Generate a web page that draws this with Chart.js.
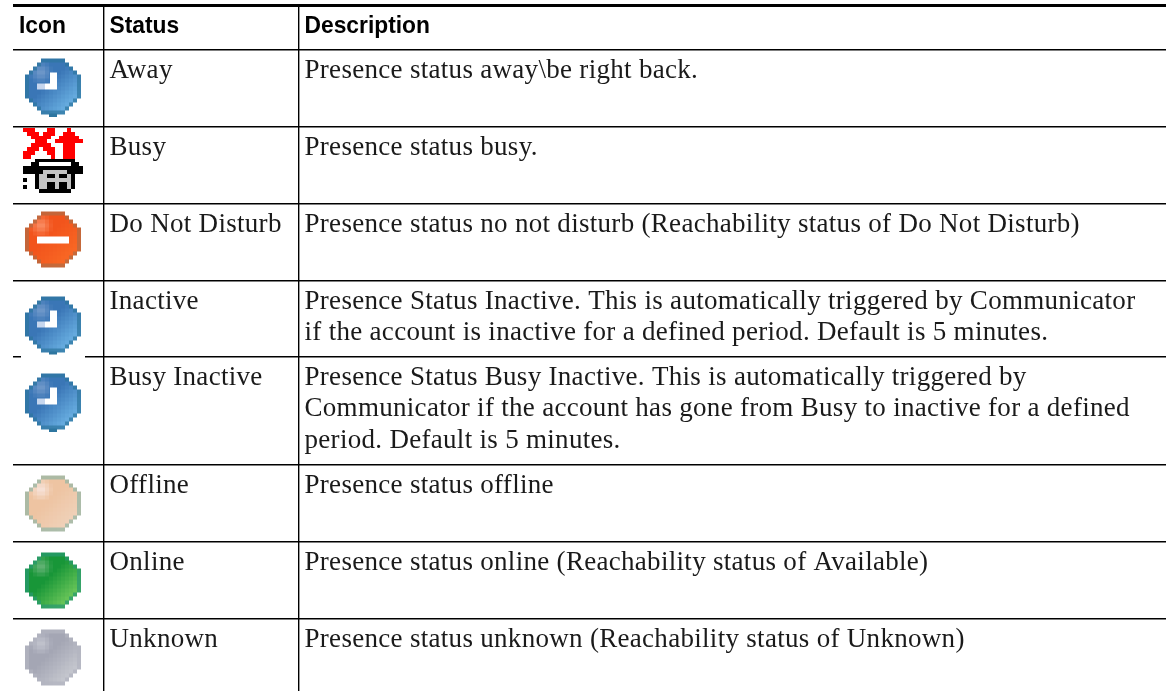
<!DOCTYPE html>
<html>
<head>
<meta charset="utf-8">
<script src="https://cdn.jsdelivr.net/npm/chart.js@4"></script>
<style>
  html, body { margin: 0; padding: 0; background: #fff; }
  canvas { display: block; }
</style>
</head>
<body>
<canvas id="statusTable" width="1166" height="691"></canvas>
<script>
// table content
const headers = ['Icon', 'Status', 'Description'];
const statuses = ['Away', 'Busy', 'Do Not Disturb', 'Inactive', 'Busy Inactive', 'Offline', 'Online', 'Unknown'];
const descriptions = [
  ['Presence status away\\be right back.'],
  ['Presence status busy.'],
  ['Presence status no not disturb (Reachability status of Do Not Disturb)'],
  ['Presence Status Inactive. This is automatically triggered by Communicator', 'if the account is inactive for a defined period. Default is 5 minutes.'],
  ['Presence Status Busy Inactive. This is automatically triggered by', 'Communicator if the account has gone from Busy to inactive for a defined', 'period. Default is 5 minutes.'],
  ['Presence status offline'],
  ['Presence status online (Reachability status of Available)'],
  ['Presence status unknown (Reachability status of Unknown)']
];
const iconKinds = ['clock', 'busy', 'dnd', 'clockMasked', 'clock', 'offline', 'online', 'unknown'];

// axis ticks: the rules of the table
const columnTicks = [103.5, 298.5];
const rowTicks = [5.5, 49.5, 126.5, 203.5, 280.5, 356.5, 464.5, 541.5, 618.5];
const iconRowOffsets = [37, 34, 36, 44, 45, 39, 39, 39];

const ICON_X = 53;
const LINE_STEP = 31.7;
const textColor = '#1a1a1a';

const palettes = {
  clock: { edge: [46, 118, 160], dark: [58, 118, 182], light: [114, 186, 234], shine: [118, 156, 204] },
  dnd: { edge: [180, 106, 66], dark: [242, 84, 28], light: [250, 108, 38], shine: [250, 146, 106] },
  offline: { edge: [150, 182, 165], dark: [238, 196, 162], light: [240, 212, 190], shine: [248, 230, 222] },
  online: { edge: [40, 154, 110], dark: [24, 150, 56], light: [124, 208, 96], shine: [108, 182, 124] },
  unknown: { edge: [178, 180, 192], dark: [164, 166, 180], light: [204, 206, 212], shine: [196, 198, 208] }
};

const mix = (a, b, t) => a.map((v, i) => Math.round(v + (b[i] - v) * t));
const rgb = (c) => `rgb(${c[0]},${c[1]},${c[2]})`;

// low-res round icon, blown up the way the original bitmap was
const makeRoundIcon = (kind) => {
  const p = palettes[kind === 'clockMasked' ? 'clock' : kind];
  const n = 14, cell = 4;
  const inside = (x, y) => Math.hypot(x - 6.5, y - 6.5) <= 7.1;
  const small = document.createElement('canvas');
  small.width = small.height = n;
  const s = small.getContext('2d');
  for (let y = 0; y < n; y++) {
    for (let x = 0; x < n; x++) {
      if (!inside(x, y)) continue;
      const isEdge = !inside(x - 1, y) || !inside(x + 1, y) || !inside(x, y - 1) || !inside(x, y + 1);
      let c = mix(p.dark, p.light, Math.max(0, (x + y - 11) / 13));
      const glow = Math.max(0, 1 - Math.hypot(x - 3.5, y - 3) / 3);
      c = mix(c, p.shine, glow);
      if (isEdge) c = mix(c, p.edge, 0.75);
      s.fillStyle = rgb(c);
      s.fillRect(x, y, 1, 1);
    }
  }
  const masked = kind === 'clockMasked';
  const isClock = kind === 'clock' || masked;
  const big = document.createElement('canvas');
  big.width = masked ? 64 : 56;
  big.height = masked ? 70 : 60;
  const b = big.getContext('2d');
  if (masked) {
    b.fillStyle = '#fff';
    b.fillRect(0, 0, big.width, big.height);
  }
  const ox = (big.width - n * cell) / 2;
  const oy = (big.height - n * cell) / 2;
  b.imageSmoothingEnabled = false;
  b.filter = 'blur(0.7px)';
  b.drawImage(small, ox, oy, n * cell, n * cell);
  if (isClock) {
    b.fillStyle = rgb(p.edge);
    b.fillRect(ox + 24, oy + 55, 8, 3);
    b.fillStyle = '#c6d6ee';
    b.fillRect(ox + 12, oy + 25, 8, 6);
    b.fillStyle = '#fff';
    b.fillRect(ox + 20, oy + 25, 12, 6);
    b.fillRect(ox + 25, oy + 14, 7, 17);
  }
  if (kind === 'dnd') {
    b.fillStyle = '#fff';
    b.fillRect(ox + 12, oy + 25, 32, 7);
  }
  return big;
};

const busyArt = [
  'RRR...RR...R...',
  '.RRR.RRR..RRR..',
  '..RRRRR..RRRRR.',
  '...RRR..RRRRRRR',
  '..RRRRR...RRR..',
  '.RRR.RRR..RRR..',
  'RRR...RR..RRR..',
  'RR.....R..RRR..',
  '...KKKKKKKKKK..',
  '..KKWWWWWWWWKK.',
  'KKKKKKKKKKKKKKK',
  'KKKKKGGGGGGKKKK',
  '...KGGKKGKKGK..',
  'K..KGGGGGGGGK..',
  '...KGGKKGKKGK..',
  'K..KGGKKGKKGK..',
  '....KKKKKKKK...'
];

const makeBusyIcon = () => {
  const colors = { R: '#ff0000', K: '#000000', W: '#ffffff', G: '#c4c4c4' };
  const small = document.createElement('canvas');
  small.width = busyArt[0].length;
  small.height = busyArt.length;
  const s = small.getContext('2d');
  busyArt.forEach((row, y) => {
    [...row].forEach((ch, x) => {
      if (colors[ch]) {
        s.fillStyle = colors[ch];
        s.fillRect(x, y, 1, 1);
      }
    });
  });
  const big = document.createElement('canvas');
  big.width = 60;
  big.height = 65;
  const b = big.getContext('2d');
  b.imageSmoothingEnabled = false;
  b.filter = 'blur(0.5px)';
  b.drawImage(small, 0, 0, 60, 65);
  return big;
};

const iconImages = iconKinds.map((k) => (k === 'busy' ? makeBusyIcon() : makeRoundIcon(k)));
const iconPoints = iconKinds.map((k, i) => ({ x: ICON_X, y: rowTicks[i + 1] + iconRowOffsets[i] }));

// the cell text goes in after the datasets, placed through the scales
const cellTextPlugin = {
  id: 'cellText',
  afterDatasetsDraw(chart) {
    const { ctx, scales: { x, y } } = chart;
    const headX = [x.getPixelForValue(19), x.getPixelForValue(columnTicks[0] + 6), x.getPixelForValue(columnTicks[1] + 6)];
    const bodyX = [null, x.getPixelForValue(columnTicks[0] + 6), x.getPixelForValue(columnTicks[1] + 6)];
    ctx.save();
    ctx.textBaseline = 'alphabetic';
    ctx.textAlign = 'left';
    ctx.fillStyle = '#000';
    ctx.font = 'bold 24px "Liberation Sans", sans-serif';
    headers.forEach((h, i) => {
      // header face in the original is a narrow one
      ctx.save();
      ctx.translate(headX[i], y.getPixelForValue(rowTicks[0] + 27.5));
      ctx.scale(0.95, 1);
      ctx.fillText(h, 0, 0);
      ctx.restore();
    });
    ctx.fillStyle = textColor;
    ctx.font = '27px "Liberation Serif", serif';
    ctx.letterSpacing = '0.3px';
    statuses.forEach((s, i) => {
      const top = rowTicks[i + 1];
      ctx.fillText(s, bodyX[1], y.getPixelForValue(top + 28));
      descriptions[i].forEach((line, j) => {
        ctx.fillText(line, bodyX[2], y.getPixelForValue(top + 28 + j * LINE_STEP));
      });
    });
    ctx.restore();
  }
};

new Chart(document.getElementById('statusTable').getContext('2d'), {
  type: 'scatter',
  data: {
    datasets: [{
      data: iconPoints,
      pointStyle: iconImages,
      pointRadius: 20,
      showLine: false,
      clip: false
    }]
  },
  options: {
    responsive: false,
    animation: false,
    events: [],
    layout: { autoPadding: false, padding: { left: 13, top: 5.5, right: 0, bottom: 0 } },
    plugins: { legend: { display: false }, tooltip: { enabled: false } },
    scales: {
      x: {
        type: 'linear',
        min: 13,
        max: 1166,
        afterBuildTicks: (scale) => { scale.ticks = columnTicks.map((value) => ({ value })); },
        ticks: { display: false },
        border: { display: false },
        grid: { color: '#000', lineWidth: 1.4, drawTicks: false }
      },
      y: {
        type: 'linear',
        reverse: true,
        min: 5.5,
        max: 691,
        afterBuildTicks: (scale) => { scale.ticks = rowTicks.map((value) => ({ value })); },
        ticks: { display: false },
        border: { display: false },
        grid: {
          color: '#000',
          lineWidth: (c) => (c.index === 0 ? 3 : 1.4),
          drawTicks: false
        }
      }
    }
  },
  plugins: [cellTextPlugin]
});
</script>
</body>
</html>
